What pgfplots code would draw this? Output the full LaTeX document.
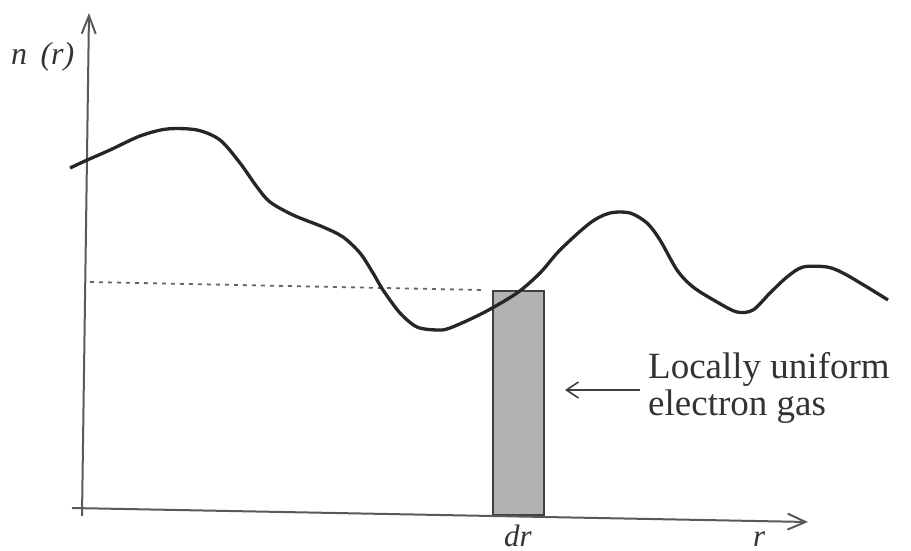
\documentclass[border=0pt]{standalone}
\usepackage{pgfplots}
\pgfplotsset{compat=1.18}
\usepackage{fontspec}
\setmainfont{Liberation Serif}
\usetikzlibrary{arrows.meta}
\begin{document}
\begin{tikzpicture}
\begin{axis}[
  width=911pt, height=551pt, scale only axis,
  xmin=0, xmax=911, ymin=0, ymax=551, y dir=reverse,
  hide axis, clip=false,
]
% frame for bounding box
\addplot[draw=none] coordinates {(0,0) (911,551)};
% bar (locally uniform gas)
\addplot[fill=black!30, draw=black!75, line width=1.5pt] coordinates {(493,515) (544,515) (544,291) (493,291)} -- cycle;
% dotted level line
\addplot[black!60, line width=1.8pt, dash pattern=on 4pt off 5pt] coordinates {(90,282) (483,290)};
% axes
\addplot[black!65, line width=2pt, -{Straight Barb[length=18pt,width=16pt,line width=2pt]}] coordinates {(72,508) (808,522)};
\addplot[black!65, line width=2pt, -{Straight Barb[length=18pt,width=14pt,line width=2pt]}] coordinates {(82,516) (89,13)};
% density curve
\addplot[black!85, line width=3.3pt, smooth, tension=0.5] coordinates {
(70,168) (85,161) (110,150) (140,136) (167,129) (197,130) (220,140) (240,163)
(257,187) (270,202) (293,215) (323,227) (343,237) (360,253) (373,273) (383,290)
(400,313) (417,327) (437,330) (450,328) (483,313) (517,293) (540,273) (560,250)
(590,223) (610,213) (630,213) (647,223) (660,240) (677,270) (693,287) (717,302)
(737,312) (753,310) (770,293) (787,277) (803,267) (827,267) (843,273) (867,287)
(888,300)};
% pointer arrow
\addplot[black!75, line width=1.6pt, -{Straight Barb[length=12pt,width=16pt,line width=1.6pt]}] coordinates {(640,390) (565,390)};
% labels
\node[anchor=base west, inner sep=0pt, text=black!80] at (axis cs:648,378) {\fontsize{37}{37}\selectfont Locally uniform};
\node[anchor=base west, inner sep=0pt, text=black!80] at (axis cs:648,415) {\fontsize{37}{37}\selectfont electron gas};
\node[anchor=base west, inner sep=0pt, text=black!80] at (axis cs:11,65) {\fontsize{32}{32}\selectfont\itshape n \,(r)};
\node[anchor=base west, inner sep=0pt, text=black!80] at (axis cs:504,546) {\fontsize{31}{31}\selectfont\itshape dr};
\node[anchor=base west, inner sep=0pt, text=black!80] at (axis cs:753,546) {\fontsize{31}{31}\selectfont\itshape r};
\end{axis}
\end{tikzpicture}
\end{document}
